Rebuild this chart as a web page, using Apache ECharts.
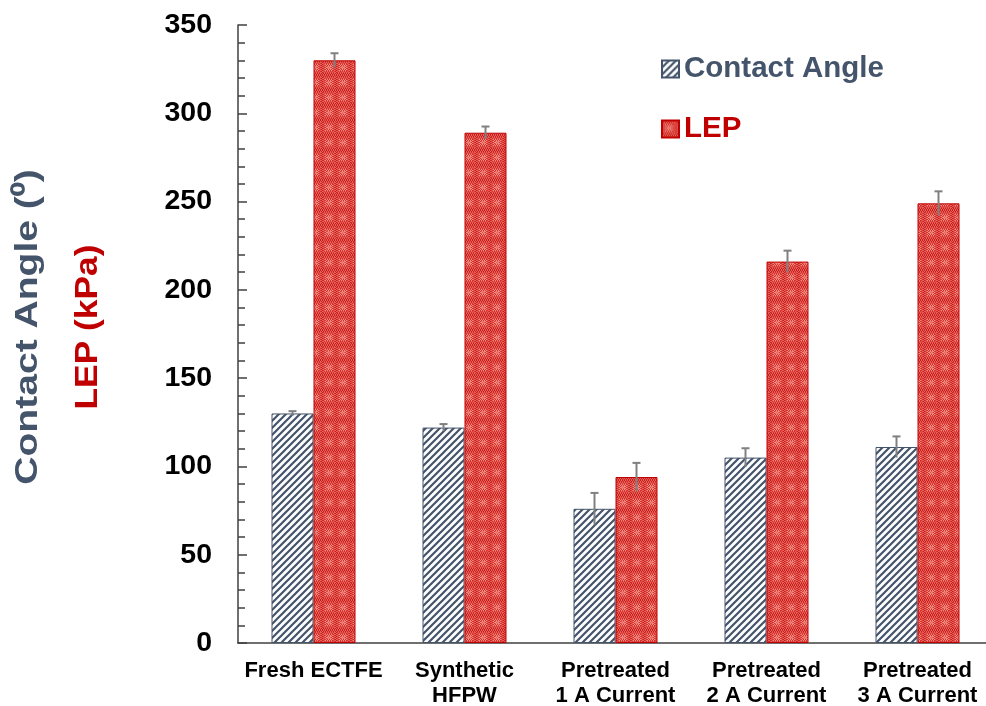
<!DOCTYPE html>
<html>
<head>
<meta charset="utf-8">
<script src="https://cdn.jsdelivr.net/npm/echarts@6/dist/echarts.min.js"></script>
<style>
html,body{margin:0;padding:0;background:#fff;}
#chart{width:986px;height:706px;}
</style>
</head>
<body>
<div id="chart"></div>
<script>
const categories = ['Fresh ECTFE', 'Synthetic\nHFPW', 'Pretreated\n1 A Current', 'Pretreated\n2 A Current', 'Pretreated\n3 A Current'];
const contactAngle = [130, 122, 76, 105, 111];
const contactAngleErr = [1.3, 2, 9, 5.3, 6];
const lep = [330, 289, 94, 216, 249];
const lepErr = [4, 3.5, 8, 6.2, 6.8];
const yTicks = { min: 0, max: 350, interval: 50 };
const yTitleCA = 'Contact Angle (⁰)';
const yTitleLEP = 'LEP (kPa)';

const FONT = 'Liberation Sans, Arial, sans-serif';
const BAR_W = 42;

function makeHatch() {
  const s = 7;
  const c = document.createElement('canvas');
  c.width = s; c.height = s;
  const g = c.getContext('2d');
  g.fillStyle = '#ffffff';
  g.fillRect(0, 0, s, s);
  g.strokeStyle = '#44546A';
  g.lineWidth = 2.2;
  g.beginPath();
  g.moveTo(-s, s); g.lineTo(s, -s);
  g.moveTo(0, s); g.lineTo(s, 0);
  g.moveTo(0, 2 * s); g.lineTo(2 * s, 0);
  g.stroke();
  return c;
}

function makePlaid() {
  const w = 14, h = 15;
  const c = document.createElement('canvas');
  c.width = w; c.height = h;
  const g = c.getContext('2d');
  const img = g.createImageData(w, h);
  const red = [215, 50, 46];
  const dark = [200, 32, 30];
  const pink = [236, 140, 130];
  const mid = [228, 96, 88];
  for (let y = 0; y < h; y++) {
    for (let x = 0; x < w; x++) {
      const dx = Math.abs(x - 6.5), dy = Math.abs(y - 7);
      const r = Math.floor(Math.max(dx, dy));
      const chk = (x + y) % 2 === 0;
      let col;
      if (r <= 1) col = chk ? pink : mid;
      else if (r <= 3) col = chk ? red : pink;
      else if (r <= 5) col = chk ? mid : red;
      else col = chk ? dark : mid;
      const i = (y * w + x) * 4;
      img.data[i] = col[0]; img.data[i + 1] = col[1]; img.data[i + 2] = col[2]; img.data[i + 3] = 255;
    }
  }
  g.putImageData(img, 0, 0);
  return c;
}

const hatch = { image: makeHatch(), repeat: 'repeat' };
const plaid = { image: makePlaid(), repeat: 'repeat' };

function errRender(offset) {
  return function (params, api) {
    const xi = api.value(0);
    const v = api.value(1);
    const e = api.value(2);
    const top = api.coord([xi, v + e]);
    const bot = api.coord([xi, v - e]);
    const x = top[0] + offset;
    const cap = 4;
    return {
      type: 'group',
      children: [
        { type: 'line', shape: { x1: x, y1: top[1], x2: x, y2: bot[1] }, style: { stroke: '#808080', lineWidth: 2 } },
        { type: 'line', shape: { x1: x - cap, y1: top[1], x2: x + cap, y2: top[1] }, style: { stroke: '#808080', lineWidth: 2 } }
      ]
    };
  };
}

const chart = echarts.init(document.getElementById('chart'), null, { renderer: 'canvas' });
chart.setOption({
  animation: false,
  backgroundColor: '#ffffff',
  grid: { left: 238, width: 755, top: 25, bottom: 63, containLabel: false, outerBoundsMode: 'none' },
  legend: {
    orient: 'vertical',
    left: 656,
    top: 49,
    icon: 'rect',
    itemWidth: 17,
    itemHeight: 17,
    itemGap: 30,
    data: [
      { name: 'Contact Angle', textStyle: { color: '#44546A' } },
      { name: 'LEP', textStyle: { color: '#C00000' } }
    ],
    textStyle: { fontFamily: FONT, fontSize: 29.5, fontWeight: 'bold' }
  },
  graphic: [
    {
      type: 'text', x: 28, y: 327, rotation: Math.PI / 2, scaleX: 1.26, scaleY: 1,
      style: { text: yTitleCA, font: 'bold 31px ' + FONT, fill: '#44546A', align: 'center', verticalAlign: 'middle' }
    },
    {
      type: 'text', x: 88, y: 327, rotation: Math.PI / 2, scaleX: 1.14, scaleY: 1,
      style: { text: yTitleLEP, font: 'bold 31px ' + FONT, fill: '#C00000', align: 'center', verticalAlign: 'middle' }
    }
  ],
  xAxis: {
    type: 'category',
    data: categories,
    axisLine: { lineStyle: { color: '#404040', width: 1.5 } },
    axisTick: { show: false },
    axisLabel: { color: '#000', fontFamily: FONT, fontSize: 22, fontWeight: 'bold', margin: 15, lineHeight: 25, interval: 0 }
  },
  yAxis: {
    type: 'value',
    min: yTicks.min, max: yTicks.max, interval: yTicks.interval,
    axisLine: { show: true, lineStyle: { color: '#404040', width: 1.5 } },
    axisTick: { show: true, inside: true, length: 9, lineStyle: { color: '#404040', width: 1.5 } },
    minorTick: { show: true, splitNumber: 5, length: 7, lineStyle: { color: '#404040', width: 1.5 } },
    splitLine: { show: false },
    axisLabel: { color: '#000', fontFamily: FONT, fontSize: 28.5, fontWeight: 'bold', margin: 26 }
  },
  series: [
    {
      name: 'Contact Angle', type: 'bar', data: contactAngle, barWidth: BAR_W, barGap: '0%',
      itemStyle: { color: hatch, borderColor: '#44546A', borderWidth: 1 }
    },
    {
      name: 'LEP', type: 'bar', data: lep, barWidth: BAR_W, barGap: '0%',
      itemStyle: { color: plaid, borderColor: '#C00000', borderWidth: 1 }
    },
    {
      name: 'CA err', type: 'custom', z: 5,
      renderItem: errRender(-BAR_W / 2),
      data: contactAngle.map((v, i) => [i, v, contactAngleErr[i]])
    },
    {
      name: 'LEP err', type: 'custom', z: 5,
      renderItem: errRender(BAR_W / 2),
      data: lep.map((v, i) => [i, v, lepErr[i]])
    }
  ]
});
</script>
</body>
</html>
